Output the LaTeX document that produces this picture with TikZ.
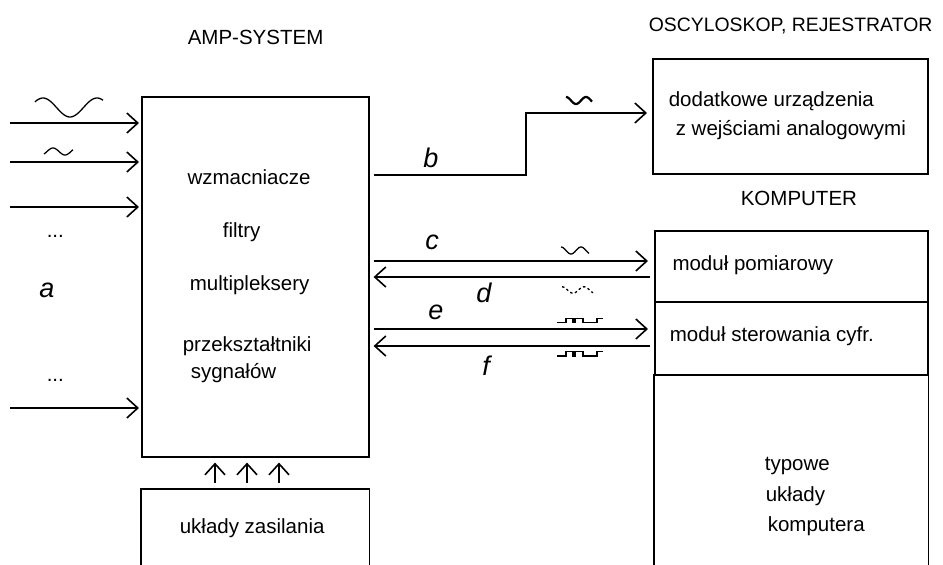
\documentclass[tikz,border=0pt]{standalone}
\usepackage{fontspec}
\setmainfont{Liberation Sans}
\usetikzlibrary{arrows.meta}
\begin{document}
\begin{tikzpicture}[x=1pt,y=-1pt,line width=1.6pt,
  txt/.style={inner sep=0pt,font=\fontsize{20.5}{24}\selectfont,anchor=base west},
  lbl/.style={inner sep=0pt,font=\fontsize{27}{30}\selectfont\itshape,anchor=base},
  box/.style={draw,inner sep=0pt,anchor=north west},
  openbox/.style={inner sep=0pt,anchor=north west},
  arr/.style={-{Straight Barb[length=11pt,width=20pt]}},
  wave/.style={line width=1.3pt},
  dashwave/.style={line width=1.3pt,dash pattern=on 2.5pt off 2.5pt},
  sq/.style={line width=1.4pt,line join=miter}]
\useasboundingbox (0,0) rectangle (943,565);

% boxes
\node[box,minimum width=227pt,minimum height=360pt] (amp) at (141,96) {};
\node[openbox,minimum width=227pt,minimum height=76pt] (pw) at (141,489) {};
\draw (pw.south west) |- (pw.north east) -- (pw.south east);
\node[box,minimum width=275pt,minimum height=115pt] (dod) at (652,58) {};
\node[box,minimum width=273pt,minimum height=71pt] (pom) at (654,230) {};
\node[box,minimum width=273pt,minimum height=73pt] (ster) at (654,301) {};
\node[openbox,minimum width=273pt,minimum height=191pt] (kom) at (654,374) {};
\draw (kom.north west) -- (kom.south west);
\draw (kom.north east) -- (kom.south east);

% headings
\node[txt] (hamp) at (187,44) {AMP-SYSTEM};
\node[txt,font=\fontsize{19.4}{23}\selectfont] (hosc) at (648,31.7) {OSCYLOSKOP, REJESTRATOR};
\node[txt] (hkom) at (740,205) {KOMPUTER};

% texts in AMP box
\node[txt] (t1) at (186.7,184) {wzmacniacze};
\node[txt] (t2) at (222,237) {filtry};
\node[txt] (t3) at (189,290) {multipleksery};
\node[txt] (t4) at (182,351) {przekształtniki};
\node[txt] (t5) at (190,378) {sygnałów};
\node[txt] (t6) at (179,533) {układy zasilania};

% right texts
\node[txt] (r1) at (668,106.7) {dodatkowe urządzenia};
\node[txt] (r2) at (675,135) {z wejściami analogowymi};
\node[txt] (r3) at (671.7,270) {moduł pomiarowy};
\node[txt] (r4) at (669,341.7) {moduł sterowania cyfr.};
\node[txt] (r5) at (764,470) {typowe};
\node[txt] (r6) at (765,501.7) {układy};
\node[txt] (r7) at (767,531.7) {komputera};

% inputs
\coordinate (i1) at (10,123);
\coordinate (i2) at (10,162);
\coordinate (i3) at (10,207);
\coordinate (i4) at (10,408);
\foreach \c in {i1,i2,i3,i4}
  \draw[arr,shorten >=2pt] (\c) -- (amp.west |- \c);
\node[txt] (dots1) at (46,237) {...};
\node[txt] (dots2) at (46,381) {...};
\node[lbl] (la) at (47,297) {a};
\draw[wave] plot[domain=35:103,samples=60,smooth] (\x,{107.5-9.5*cos(((\x-43)/54)*360)});
\draw[wave] plot[domain=44:73,samples=40,smooth] (\x,{151.5-3.5*cos(((\x-53)/24)*360)});

% power arrows
\foreach \xx in {215,247,279}{
  \coordinate (u\xx) at (\xx,0);
  \draw[arr,shorten <=6pt,shorten >=5pt] (pw.north -| u\xx) -- (amp.south -| u\xx);
}

% b connector
\coordinate (yb) at (0,175);
\coordinate (bk) at (526,113);
\draw[arr,shorten <=4pt,shorten >=5pt] (amp.east |- yb) -| (bk) -- (dod.west |- bk);
\node[lbl] (lb) at (431,167) {b};
\draw[line width=2.2pt] plot[domain=566:592,samples=40,smooth] (\x,{100.5-3.5*cos(((\x-566)/20)*360)});

% c d e f connectors
\coordinate (yc) at (0,261);
\coordinate (yd) at (0,277);
\coordinate (ye) at (0,329);
\coordinate (yf) at (0,346);
\draw[arr,shorten <=4pt,shorten >=6pt] (amp.east |- yc) -- (pom.west |- yc);
\draw[arr,shorten <=4pt,shorten >=4pt] (pom.west |- yd) -- (amp.east |- yd);
\draw[arr,shorten <=4pt,shorten >=6pt] (amp.east |- ye) -- (ster.west |- ye);
\draw[arr,shorten <=4pt,shorten >=4pt] (ster.west |- yf) -- (amp.east |- yf);
\node[lbl] (lc) at (432,249) {c};
\node[lbl] (ld) at (484,302) {d};
\node[lbl] (le) at (436,319) {e};
\node[lbl] (lf) at (486,375) {f};
\draw[wave] plot[domain=561:589,samples=40,smooth] (\x,{250.5-3.5*cos(((\x-561)/20)*360)});
\draw[dashwave] plot[domain=562:593,samples=40,smooth] (\x,{290-3.2*cos(((\x-562)/22)*360)});
\draw[sq] (557,322.7) -- (566,322.7) -- (566,318.7) -- (573,318.7) -- (573,322.7) -- (575,322.7) -- (575,318.7) -- (583,318.7) -- (583,322.7) -- (597,322.7) -- (597,318.7) -- (603,318.7);
\draw[sq] (557,356) -- (566,356) -- (566,351.5) -- (573,351.5) -- (573,356) -- (575,356) -- (575,351.5) -- (583,351.5) -- (583,356) -- (597,356) -- (597,351.5) -- (603,351.5);
\end{tikzpicture}
\end{document}
